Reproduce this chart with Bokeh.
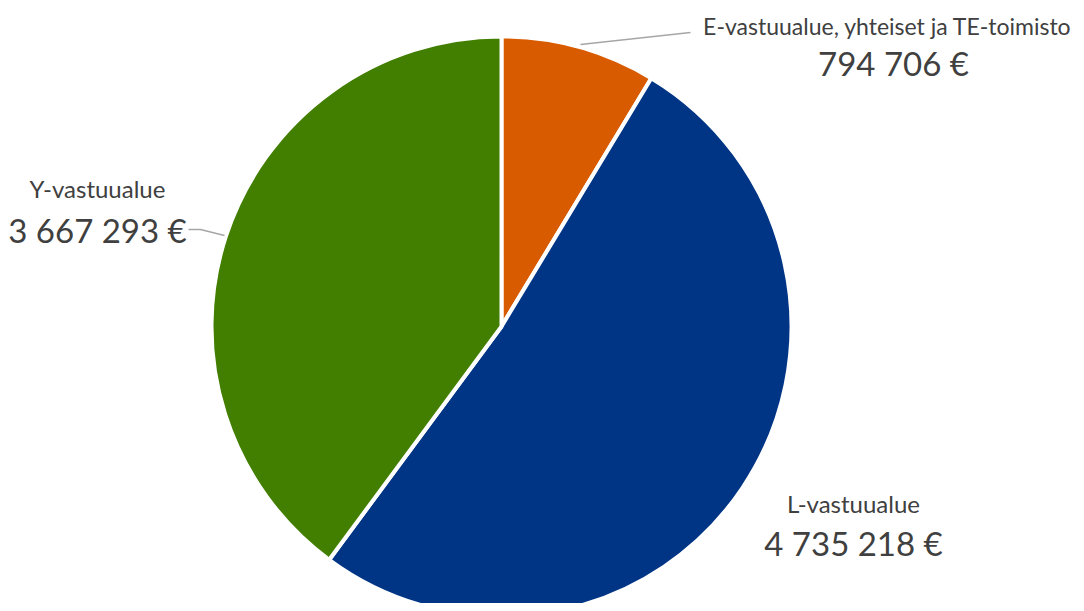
import math
from bokeh.plotting import figure
from bokeh.models import Range1d, ColumnDataSource
from bokeh.core.properties import value
from bokeh.embed import file_html
from bokeh.resources import INLINE

categories = ["E-vastuualue, yhteiset ja TE-toimisto", "L-vastuualue", "Y-vastuualue"]
amounts = [794706, 4735218, 3667293]
value_labels = ["794 706 €", "4 735 218 €", "3 667 293 €"]
colors = ["#D95B00", "#003586", "#427F00"]

W, H = 1076, 603
IMG_H = 611

def yy(y_img):
    return IMG_H - y_img

p = figure(width=W, height=H, output_backend="svg", toolbar_location=None,
           x_range=Range1d(0, W), y_range=Range1d(IMG_H - H, IMG_H),
           min_border=0)
p.axis.visible = False
p.grid.visible = False
p.outline_line_color = None
p.background_fill_color = "white"

total = sum(amounts)
starts, ends = [], []
cum = 0.0
for a in amounts:
    s = math.pi / 2 - 2 * math.pi * cum / total
    cum += a
    e = math.pi / 2 - 2 * math.pi * cum / total
    starts.append(s)
    ends.append(e)

cx, cy, r = 501, yy(326), 290
src = ColumnDataSource(dict(start=starts, end=ends, color=colors))
p.wedge(x=cx, y=cy, radius=r, start_angle="start", end_angle="end", direction="clock",
        fill_color="color", line_color="white", line_width=4, source=src)

# leader lines
p.line([580, 690], [yy(44), yy(32)], line_color="#A6A6A6", line_width=1.3)
p.line([188, 200, 224], [yy(229), yy(229), yy(235)], line_color="#A6A6A6", line_width=1.3)

font = value("Lato")
name_pos = [(887, 25), (853, 503), (97, 188)]
val_pos = [(893, 62), (853, 542), (97, 229)]
name_sizes = ["23px", "24px", "24px"]
for i in range(3):
    p.text(x=[name_pos[i][0]], y=[yy(name_pos[i][1])], text=[categories[i]],
           text_font=font, text_font_size=name_sizes[i], text_color="#404040",
           text_align="center", text_baseline="middle")
    p.text(x=[val_pos[i][0]], y=[yy(val_pos[i][1])], text=[value_labels[i]],
           text_font=font, text_font_size="33px", text_color="#404040",
           text_align="center", text_baseline="middle")

open("out.html", "w").write(file_html(p, INLINE))
